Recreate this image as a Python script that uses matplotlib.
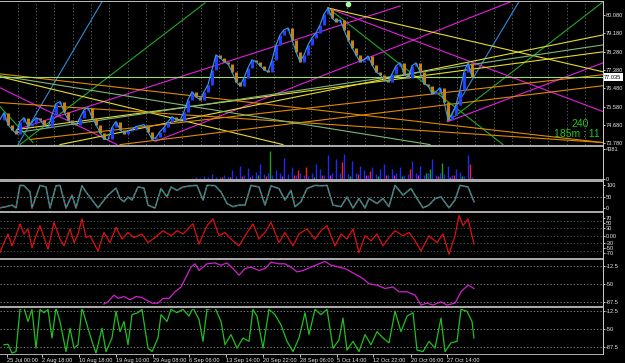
import matplotlib
matplotlib.use('Agg')
import matplotlib.pyplot as plt
from matplotlib.patches import Rectangle
from matplotlib import transforms
import numpy as np

# ---------------- data ----------------
close = [74.95, 75.29, 74.70, 74.46, 74.26, 74.85, 75.04, 74.61, 74.80, 75.04,
         74.95, 74.65, 74.56, 75.19, 75.73, 75.83, 75.34, 74.95, 74.75, 74.70,
         75.04, 75.43, 75.53, 75.04, 74.70, 74.31, 73.97, 73.97, 74.56, 74.85,
         74.46, 74.26, 74.41, 74.46, 74.61, 74.65, 74.70, 74.36, 73.97, 74.07,
         74.36, 74.56, 74.85, 75.09, 74.95, 74.90, 75.34, 75.92, 76.31, 76.07,
         75.92, 76.31, 76.66, 77.39, 78.12, 77.98, 77.78, 77.68, 77.29, 76.80,
         76.61, 77.00, 77.49, 77.88, 77.78, 77.59, 77.39, 77.29, 77.88, 78.61,
         79.10, 79.35, 79.44, 78.86, 78.27, 77.78, 78.12, 78.61, 78.96, 79.20,
         79.59, 80.13, 80.42, 79.93, 79.74, 79.84, 79.35, 78.86, 78.47, 78.12,
         77.78, 77.88, 78.07, 77.63, 77.29, 77.15, 76.90, 76.80, 77.19, 77.59,
         77.73, 77.19, 77.00, 77.59, 77.73, 77.29, 76.71, 76.61, 76.22, 76.31,
         76.51, 75.83, 74.95, 75.19, 75.68, 76.41, 77.29, 77.73, 77.035]
bar_step = 4  # time units per bar

current_price = 77.035
price_ticks = [80.08, 79.18, 78.28, 77.38, 76.48, 75.58, 74.68, 73.78]

# trend lines: start time, start price, end time, end price, colour
tl_t0 = [18, 447, 20, 0, 328, 448, 0, 17, 155, 328, 448, 0, 328, 17, 60, 0, 30, 0, 120, 0, 17]
tl_p0 = [73.72, 74.85, 73.72, 75.58, 80.42, 74.85, 76.51, 74.46, 73.87, 80.42, 74.85,
         77.05, 80.42, 74.46, 73.72, 77.19, 73.97, 75.78, 73.72, 77.10, 74.31]
tl_t1 = [103, 520, 205, 33, 503, 603, 117, 400, 515, 603, 603, 283, 603, 603, 603, 603, 603, 603, 603, 430, 603]
tl_p1 = [80.81, 80.81, 80.67, 73.82, 73.72, 80.72, 73.72, 80.52, 80.81, 75.34, 77.73,
         73.72, 77.29, 78.27, 79.10, 73.82, 77.15, 73.82, 76.61, 73.72, 78.61]
tl_col = ['blue', 'blue', 'green', 'green', 'green', 'green', 'mag', 'mag', 'mag', 'mag', 'mag',
          'yellow', 'yellow', 'yellow', 'yellow', 'orange', 'orange', 'orange', 'orange', 'pale', 'pale']

sig_t = [348]
sig_p = [80.62]

# volume
vol_start = 48
vol_main = [150, 300, 250, 500, 400, 830, 350, 400, 600, 300,
            1291, 500, 1891, 700, 1614, 600, 1061, 2214, 800, 900,
            700, 1291, 900, 3136, 800, 1752, 600, 900, 700, 500,
            900, 2214, 1522, 700, 3459, 900, 2905, 1000, 3597, 800,
            2675, 900, 1983, 1291, 700, 1752, 800, 1522, 2214, 700,
            1522, 900, 1752, 700, 800, 2675, 900, 1983, 700, 900,
            2998, 700, 900, 800, 1983, 600, 1522, 1061, 500, 3459, 300]
vb_idx = [55, 57, 60, 62, 64, 66, 67, 70, 73, 74, 76, 78, 80, 82, 85, 87, 89, 91, 92, 94,
          96, 98, 100, 102, 104, 106, 107, 109, 110, 112, 113, 115, 117]
vb_val = [300, 400, 500, 300, 600, 500, 4058, 500, 600, 1291, 1752, 400, 600, 700, 2444, 500,
          800, 600, 1200, 500, 700, 600, 500, 1522, 600, 900, 1522, 500, 2352, 400, 700, 500, 2214]
vb_col = ['r', 'm', 'r', 'm', 'g', 'r', 'g', 'm', 'r', 'r', 'r', 'g', 'r', 'm', 'r', 'g', 'r',
          'm', 'r', 'g', 'r', 'm', 'g', 'r', 'm', 'g', 'g', 'r', 'g', 'm', 'r', 'g', 'r']
vol_max = 4381

# stochastic
stoch_t = [0, 6, 12, 16, 20, 24, 30, 32, 40, 46, 50, 56, 60, 66, 72, 76, 82, 86, 98, 108,
           116, 120, 124, 128, 132, 138, 144, 148, 155, 161, 167, 171, 177, 183, 191, 197, 203, 207, 215, 221,
           227, 233, 239, 245, 251, 259, 265, 271, 279, 285, 291, 295, 301, 307, 315, 321, 327, 333, 341, 347,
           353, 359, 365, 369, 377, 383, 389, 395, 403, 411, 417, 423, 429, 435, 441, 449, 455, 460, 468, 474]
stoch_v = [1, 6, 13, 1, 100, 99, 71, 0, 100, 93, 0, 98, 100, 0, 57, 0, 98, 71, 1, 57,
           88, 42, 28, 49, 35, 93, 88, 13, 0, 86, 49, 93, 78, 93, 98, 100, 35, 100, 99, 71,
           20, 6, 13, 13, 100, 93, 13, 98, 86, 35, 78, 6, 28, 86, 100, 98, 100, 13, 6, 49,
           0, 42, 0, 42, 20, 42, 6, 100, 57, 86, 42, 1, 13, 42, 49, 1, 35, 100, 93, 28]

# oscillator (red)
red_t = [0, 4, 8, 12, 16, 20, 24, 28, 32, 36, 40, 44, 48, 54, 60, 64, 70, 74, 78, 82,
         86, 90, 98, 104, 110, 116, 122, 128, 134, 142, 148, 155, 163, 171, 177, 183, 193, 199, 207, 213,
         219, 225, 231, 239, 245, 253, 259, 265, 271, 279, 285, 293, 299, 307, 315, 321, 327, 335, 341, 347,
         353, 359, 365, 371, 377, 383, 389, 395, 403, 409, 415, 421, 429, 437, 443, 449, 455, 459, 463, 468, 474]
red_v = [-67, -27, 7, -40, 0, 47, 7, 27, -47, 0, 40, -7, -53, 53, -13, -40, 27, -27, 7, 67,
         -7, 0, -60, 13, -27, 33, -13, 13, -7, 7, -27, -7, 20, 0, 20, 7, 47, -33, 40, 67,
         0, 13, -13, -40, 0, 47, -13, 13, 53, -27, 13, -40, 7, 27, -13, 20, 40, -40, 7, -13,
         27, -67, 0, -20, 7, -40, -7, 20, 0, 13, -20, -60, 0, -27, 7, -73, 0, 80, 40, 67, -33]
red_levels = [60, 30, 0, -30, -60]
red_ticks = [70, 50, 30, 0, -30, -50, -70]
red_ticklabels = ['70', '50', '30', '0.00', '-30', '-50', '-70']

# magenta indicator
mag_t = [104, 108, 114, 118, 124, 130, 136, 142, 146, 152, 158, 163, 169, 175, 181, 187, 191, 195, 199, 203,
         207, 215, 221, 227, 233, 239, 245, 251, 259, 265, 271, 279, 285, 291, 297, 303, 311, 319, 325, 331,
         339, 345, 351, 357, 363, 369, 377, 385, 393, 399, 407, 415, 421, 427, 433, 441, 447, 455, 461, 468, 474]
mag_v = [-92, -87, -73, -80, -76, -83, -76, -78, -83, -90, -90, -80, -80, -66, -56, -31, -14, -7, -21, -14,
         -7, -5, -10, -5, -17, -31, -17, -14, -21, -17, -3.5, -7, -7, -14, -24, -21, -14, -7, -2, -10,
         -14, -17, -24, -31, -38, -49, -52, -59, -56, -66, -66, -73, -94, -90, -94, -87, -94, -90, -66, -52, -59]

# green indicator
grn_t = [4, 8, 12, 16, 20, 24, 28, 32, 36, 40, 44, 48, 52, 56, 60, 66, 70, 74, 78, 82,
         86, 92, 96, 102, 106, 112, 116, 120, 124, 128, 132, 138, 142, 148, 152, 158, 161, 167, 171, 177,
         183, 189, 193, 199, 203, 207, 215, 221, 225, 231, 237, 243, 249, 253, 257, 263, 269, 275, 281, 287,
         293, 299, 305, 309, 315, 321, 327, 333, 339, 343, 347, 353, 359, 365, 371, 377, 383, 389, 395, 401,
         407, 413, 417, 423, 429, 435, 441, 445, 451, 457, 461, 467, 472, 474]
grn_v = [-83, -82, -100, -97, -10, -7, -35, -10, -90, -10, -17, -10, -69, -7, -35, -97, -49, -90, -83, -7,
         -35, -76, -100, -49, -97, -69, -14, -56, -35, -83, -21, -17, -10, -90, -97, -69, -21, -35, -10, -17,
         -10, -24, -7, -31, -76, -10, -7, -35, -83, -62, -90, -69, -76, -10, -24, -90, -10, -21, -42, -76,
         -97, -69, -17, -62, -10, -21, -10, -90, -73, -28, -94, -76, -97, -62, -83, -56, -69, -79, -14, -56,
         -24, -17, -94, -97, -76, -90, -28, -97, -79, -76, -10, -14, -35, -69]
pct_ticks = [-12.5, -50, -87.5]
pct_ticklabels = ['-12.5', '-50', '-87.5']

date_pos = [7, 42, 79, 116, 153, 189, 226, 263, 300, 337, 373, 411, 447]
date_labels = ['25 Jul 00:00', '2 Aug 18:00', '10 Aug 18:00', '19 Aug 10:00', '29 Aug 08:00',
               '6 Sep 06:00', '13 Sep 14:00', '20 Sep 22:00', '28 Sep 06:00', '5 Oct 14:00',
               '12 Oct 22:00', '20 Oct 06:00', '27 Oct 14:00']

# ---------------- style ----------------
FONT = ['Liberation Sans Narrow', 'Liberation Sans', 'DejaVu Sans']
plt.rcParams['font.family'] = FONT
TICK_FS = 4.1
COL = {'blue': '#2f8ad8', 'green': '#22aa22', 'mag': '#e020e0', 'yellow': '#e4dc2c',
       'orange': '#e08a00', 'pale': '#7cb87c'}
VCOL = {'r': '#ff2020', 'm': '#e020e0', 'g': '#20a020'}

W, H = 625, 363
PLOT_R = 603
fig = plt.figure(figsize=(W / 100, H / 100), dpi=100, facecolor='black')


def panel(top, bottom):
    ax = fig.add_axes([0, 1 - bottom / H, PLOT_R / W, (bottom - top) / H])
    ax.set_facecolor('black')
    for s in ax.spines.values():
        s.set_visible(False)
    ax.set_xlim(0, PLOT_R)
    ax.yaxis.tick_right()
    ax.tick_params(axis='y', colors='#e8e8e8', labelsize=TICK_FS, length=1.5, width=0.6, pad=0.8)
    ax.tick_params(axis='x', bottom=False, labelbottom=False)
    return ax


def hdots(ax, levels, color='#9a9a9a'):
    for lv in levels:
        ax.axhline(lv, color=color, lw=0.6, ls=(0, (1.5, 2.5)), zorder=1)


# ---- main price panel ----
ax = panel(2.5, 145)
ax.set_ylim(73.70, 80.69)
for gx in np.arange(17.7, PLOT_R, 18.3):
    ax.axvline(gx, color='#6e6e6e', lw=0.6, ls=(0, (1.5, 2.5)), zorder=0)
for a, b, c, d, col in zip(tl_t0, tl_p0, tl_t1, tl_p1, tl_col):
    ax.plot([a, c], [b, d], color=COL[col], lw=0.8, zorder=2)
ax.axhline(current_price, color='#9cdc6c', lw=0.8, zorder=2)

cl = np.array(close)
t = np.arange(len(cl)) * bar_step
prev = np.concatenate([[cl[0]], cl[:-1]])
up = cl >= prev
ax.vlines(t[up], prev[up], cl[up], color='#2040ff', lw=2.2, zorder=3)
ax.vlines(t[~up], cl[~up], prev[~up], color='#c8820a', lw=2.2, zorder=3)
ax.plot(t, cl, color='#3aa0e0', lw=0.8, zorder=4)
ax.plot(sig_t, sig_p, 'o', ms=3, color='#a0ffa0', zorder=5, clip_on=False)

ax.set_yticks(price_ticks)
ax.set_yticklabels([f'{v:.3f}' for v in price_ticks])
ax.text(1.002, current_price, f'{current_price:.3f}',
        transform=transforms.blended_transform_factory(ax.transAxes, ax.transData),
        fontsize=TICK_FS, color='black', va='center', ha='left',
        bbox=dict(boxstyle='square,pad=0.2', facecolor='white', edgecolor='none'))
fig.text(580 / W, 1 - 124 / H, '240', color='#22c622', fontsize=7.5, ha='center', va='center',
         family=['Liberation Sans', 'DejaVu Sans'])
fig.text(600 / W, 1 - 134 / H, '185m : 11', color='#22c622', fontsize=7.5, ha='right', va='center',
         family=['Liberation Sans', 'DejaVu Sans'])

# ---- volume panel ----
axv = panel(148, 179.5)
axv.set_ylim(0, vol_max * 1.03)
vt = (vol_start + np.arange(len(vol_main))) * bar_step
axv.vlines(vt, 0, vol_main, color='#1c2cff', lw=1.0)
vbt = np.array(vb_idx) * bar_step + 2
axv.vlines(vbt, 0, vb_val, color=[VCOL[c] for c in vb_col], lw=1.0)
axv.set_yticks([vol_max, 0])
axv.set_yticklabels([str(vol_max), '0'])

# ---- stochastic panel ----
axs = panel(181.5, 211)
axs.set_ylim(-13, 117)
hdots(axs, [50])
axs.plot(stoch_t, stoch_v, color='#1fa3a3', lw=1.1)
axs.plot(stoch_t, stoch_v, color='#e02020', lw=0.7, ls=(0, (2, 3)))
axs.set_yticks([100, 50, 0])
axs.set_yticklabels(['100', '50', '0'])

# ---- oscillator panel ----
axr = panel(213.5, 258)
axr.set_ylim(-88, 88)
hdots(axr, red_levels, color='#3f6a6a')
axr.plot(red_t, red_v, color='#e01010', lw=0.9)
axr.set_yticks(red_ticks)
axr.set_yticklabels(red_ticklabels)

# ---- magenta panel ----
axm = panel(260.5, 306)
axm.set_ylim(-96, 0)
hdots(axm, pct_ticks)
axm.plot(mag_t, mag_v, color='#d020d0', lw=0.9)
axm.set_yticks(pct_ticks)
axm.set_yticklabels(pct_ticklabels)

# ---- green panel ----
axg = panel(308.5, 354)
axg.set_ylim(-102, -8.3)
hdots(axg, pct_ticks)
axg.plot(grn_t, grn_v, color='#20c020', lw=0.9)
axg.set_yticks(pct_ticks)
axg.set_yticklabels(pct_ticklabels)
axg.set_xticks(date_pos)
axg.set_xticklabels(date_labels)
axg.tick_params(axis='x', bottom=True, labelbottom=True, colors='#e8e8e8', labelsize=TICK_FS,
                length=2, width=0.6, pad=1)
for lbl in axg.get_xticklabels():
    lbl.set_ha('left')

# ---- separators / borders ----
def band(y0, y1, color):
    fig.patches.append(Rectangle((0, 1 - y1 / H), PLOT_R / W, (y1 - y0) / H,
                                 transform=fig.transFigure, facecolor=color, edgecolor='none', zorder=10))

band(0.8, 2.0, '#b8b8b8')
for y0 in [145, 179.5, 211, 258, 306]:
    band(y0, y0 + 2.4, '#a8a8a8')
band(354, 355, '#a8a8a8')
fig.patches.append(Rectangle((PLOT_R / W, 1 - 355 / H), 1 / W, 354 / H, transform=fig.transFigure,
                             facecolor='#c8c8c8', edgecolor='none', zorder=10))

fig.savefig('out.png', dpi=100, facecolor='black')
